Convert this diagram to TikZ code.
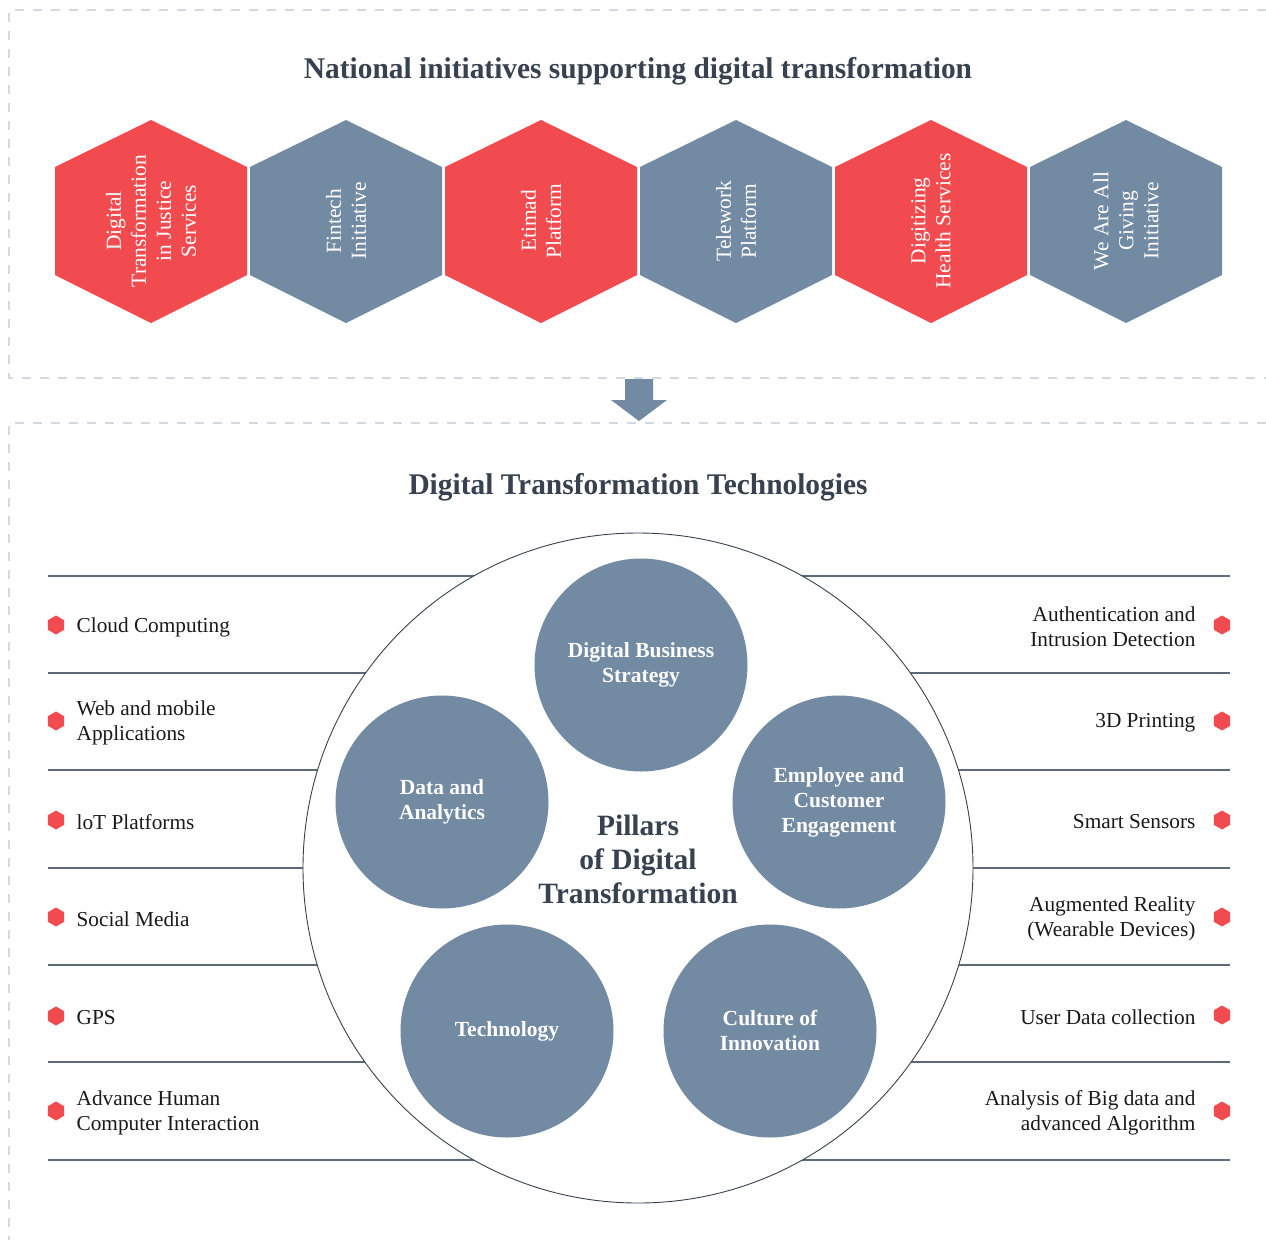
\documentclass[tikz,border=0pt]{standalone}
\usepackage{fontspec}
\setmainfont{Liberation Serif}
\newfontfamily\headfont[FakeStretch=0.98]{Liberation Serif}
\usepackage{tikz}
\usetikzlibrary{positioning,shapes.geometric}

\definecolor{hexred}{HTML}{F24B4F}
\definecolor{slate}{HTML}{738AA3}
\definecolor{ink}{HTML}{37414F}
\definecolor{dashgray}{HTML}{D3D9E1}
\definecolor{rulegray}{HTML}{5E6A78}

\tikzset{
  frameline/.style={dashgray,line width=2pt,dash pattern=on 9pt off 9pt},
  heading/.style={text=ink,font=\headfont\bfseries\fontsize{30}{34}\selectfont},
  hextext/.style={rotate=90,align=center,text=white,font=\fontsize{21.4}{25}\selectfont},
  pillar/.style={circle,fill=slate,minimum size=213pt,inner sep=0pt,align=center,
    text=white,font=\bfseries\fontsize{21.5}{25}\selectfont},
  bullet/.style={regular polygon,regular polygon sides=6,shape border rotate=30,
    fill=hexred,inner sep=0pt,minimum size=19pt},
  item/.style={inner sep=0pt,yshift=-2pt,text=black!90,font=\fontsize{21.3}{25}\selectfont}
}

\begin{document}
\begin{tikzpicture}[x=1pt,y=-1pt]
\useasboundingbox (0,0) rectangle (1266,1240);

\draw[frameline] (1266,10) -- (9,10) -- (9,378) -- (1266,378);
\draw[frameline] (1266,423) -- (9,423) -- (9,1240);

\fill[slate] (625,379) -- (653,379) -- (653,400) -- (667,400) -- (639,421)
  -- (611,400) -- (625,400) -- cycle;

\node[heading] (toptitle) at (638,71) {National initiatives supporting digital transformation};

% initiatives
\foreach \cx/\col/\txt [count=\i] in {
  151/hexred/{Digital\\Transformation\\in Justice\\Services},
  346/slate/{Fintech\\Initiative},
  541/hexred/{Etimad\\Platform},
  736/slate/{Telework\\Platform},
  931/hexred/{Digitizing\\Health Services},
  1126/slate/{We Are All\\Giving\\Initiative}}{
  \fill[\col] (\cx,120) -- (\cx+96,167) -- (\cx+96,275) -- (\cx,323)
    -- (\cx-96,275) -- (\cx-96,167) -- cycle;
  \node[hextext] (init\i) at (\cx,221) {\txt};
}

\node[heading] (bottitle) at (638,487) {Digital Transformation Technologies};

\foreach \y in {576,673,770,868,965,1062,1160}
  \draw[rulegray,line width=1.2pt] (48,\y) -- (1230,\y);

\node[circle,draw=ink,fill=white,line width=0.9pt,minimum size=670pt] (hub) at (638,868) {};

\node[pillar] (strategy) at (641,665) {Digital Business\\Strategy};
\node[pillar] (data) at (442,802) {Data and\\Analytics};
\node[pillar] (people) at (839,802) {Employee and\\Customer\\Engagement};
\node[pillar] (tech) at (507,1031) {Technology};
\node[pillar] (culture) at (770,1031) {Culture of\\Innovation};
\node[align=center,text=ink,font=\bfseries\fontsize{29.5}{34}\selectfont] (pillars)
  at (638,859) {Pillars\\of Digital\\Transformation};

% technologies, left
\foreach \y/\txt [count=\i] in {
  625/{Cloud Computing},
  721/{Web and mobile\\Applications},
  820/{loT Platforms},
  917/{Social Media},
  1016/{GPS},
  1111/{Advance Human\\Computer Interaction}}{
  \node[bullet] (lb\i) at (56,\y) {};
  \node[item,align=left,right=12pt of lb\i] (lt\i) {\txt};
}

% technologies, right
\foreach \y/\txt [count=\i] in {
  625/{Authentication and\\Intrusion Detection},
  721/{3D Printing},
  820/{Smart Sensors},
  917/{Augmented Reality\\(Wearable Devices)},
  1015/{User Data collection},
  1111/{Analysis of Big data and\\advanced Algorithm}}{
  \node[bullet] (rb\i) at (1222,\y) {};
  \node[item,align=right,left=18pt of rb\i] (rt\i) {\txt};
}

\end{tikzpicture}
\end{document}
